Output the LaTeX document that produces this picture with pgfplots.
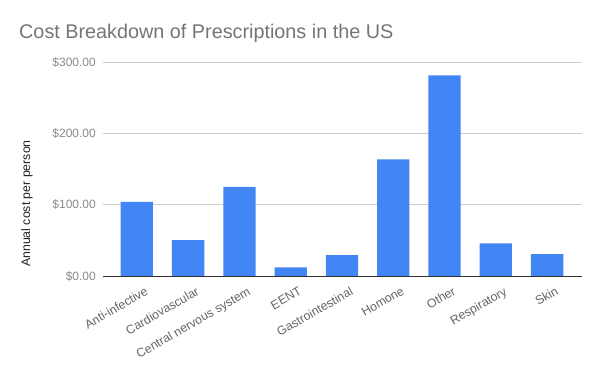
\documentclass[border=0pt]{standalone}
\usepackage{pgfplots}
\pgfplotsset{compat=1.18}
\usepackage{fontspec}
\setmainfont{Liberation Sans}
\definecolor{barblue}{HTML}{4285F4}
\definecolor{titlegray}{HTML}{757575}
\definecolor{ylabcol}{HTML}{222222}
\definecolor{ytickgray}{HTML}{8A8A8A}
\definecolor{xtickgray}{HTML}{666666}
\definecolor{gridgray}{HTML}{CCCCCC}
\definecolor{axisdark}{HTML}{333333}
\begin{document}
\begin{tikzpicture}
\useasboundingbox (0,0) rectangle (600bp,371bp);
\node[anchor=base west, font=\fontsize{19.8bp}{22bp}\selectfont, text=titlegray, inner sep=0] at (19bp,332.7bp) {Cost Breakdown of Prescriptions in the US};
\node[rotate=90, font=\fontsize{12.3bp}{14bp}\selectfont, text=ylabcol, inner sep=0] at (27bp,167.5bp) {Annual cost per person};
\begin{axis}[at={(103bp,95bp)}, anchor=south west, scale only axis,
  width=479bp, height=214bp,
  xmin=-0.66, xmax=8.68, ymin=0, ymax=300,
  axis line style={draw=none}, major tick length=0,
  /pgf/number format/assume math mode=true,
  ytick={100,200,300}, yticklabels={\$100.00,\$200.00,\$300.00},
  extra y ticks={0}, extra y tick labels={\$0.00},
  extra y tick style={grid style={draw=axisdark, line width=1bp}},
  ymajorgrids, grid style={draw=gridgray, line width=0.8bp},
  yticklabel style={font=\fontsize{12bp}{14bp}\selectfont, text=ytickgray, inner sep=0, anchor=east, xshift=-7bp},
  xtick={0,1,2,3,4,5,6,7,8},
  xticklabels={Anti-infective,Cardiovascular,Central nervous system,EENT,Gastrointestinal,Homone,Other,Respiratory,Skin},
  xticklabel style={xshift=7.5bp, yshift=-10bp, rotate=30, anchor=north east, font=\fontsize{12.3bp}{14bp}\selectfont, text=xtickgray, inner sep=0},
  ybar, bar width=32.3bp, bar shift=0,
]
\addplot[fill=barblue, draw=none] coordinates {
  (0,103.8) (1,50.3) (2,124.9) (3,12.2) (4,29.1) (5,163.4) (6,281.4) (7,45.8) (8,30.8)
};
\end{axis}
\end{tikzpicture}
\end{document}
